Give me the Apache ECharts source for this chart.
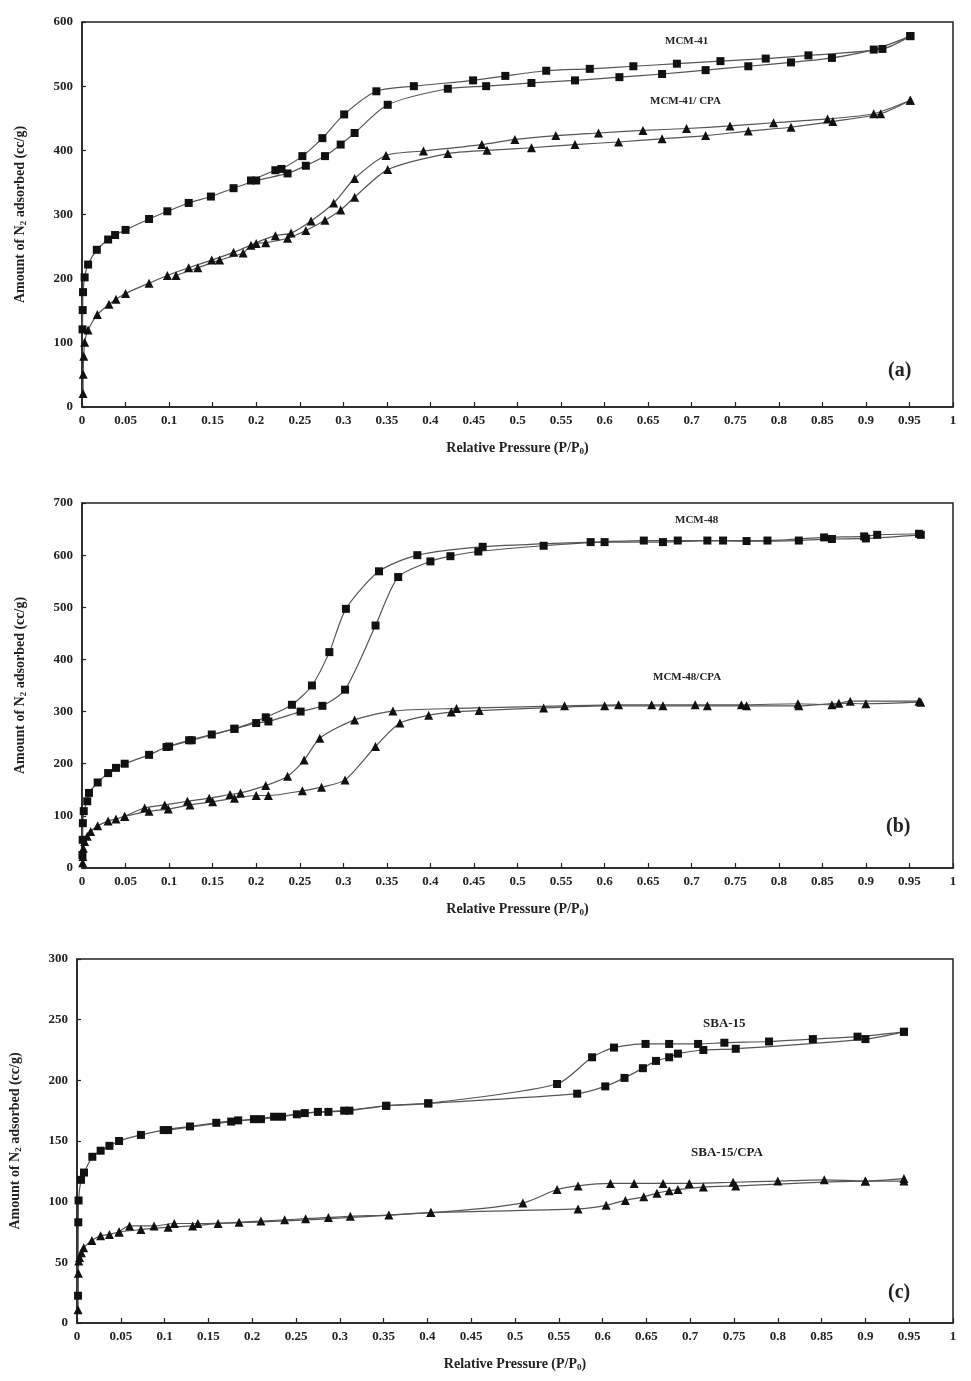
<!DOCTYPE html>
<html>
<head>
<meta charset="utf-8">
<script src="https://cdn.jsdelivr.net/npm/echarts@6/dist/echarts.min.js"></script>
<style>
html,body{margin:0;padding:0;background:#fff;}
#c{width:971px;height:1381px;}
</style>
</head>
<body>
<div id="c"></div>
<script>
// ---------- data (x = P/P0, y = cc/g) ----------
const xTicks = [0,0.05,0.1,0.15,0.2,0.25,0.3,0.35,0.4,0.45,0.5,0.55,0.6,0.65,0.7,0.75,0.8,0.85,0.9,0.95,1];

// Panel (a)
const mcm41Ads = [[0.0006,121],[0.0008,151],[0.0012,179],[0.003,202],[0.007,222],[0.017,245],[0.030,261],[0.038,268],[0.05,276],[0.077,293],[0.098,305],[0.1225,318],[0.148,328],[0.174,341],[0.2,353],[0.236,364],[0.257,376],[0.279,391],[0.297,409],[0.313,427],[0.351,471],[0.42,496],[0.464,500],[0.516,505],[0.566,509],[0.617,514],[0.666,519],[0.716,525],[0.765,531],[0.814,537],[0.861,544],[0.909,557],[0.951,578]];
const mcm41Des = [[0.194,353],[0.222,369],[0.229,371],[0.253,391],[0.276,419],[0.301,456],[0.338,492],[0.381,500],[0.449,509],[0.486,516],[0.533,524],[0.583,527],[0.633,531],[0.683,535],[0.733,539],[0.785,543],[0.834,548],[0.919,558],[0.951,578]];
const mcm41cpaAds = [[0.0012,21],[0.0014,51],[0.002,79],[0.003,101],[0.007,120],[0.0176,144],[0.031,160],[0.039,168],[0.05,177],[0.077,193],[0.098,205],[0.1225,217],[0.149,229],[0.174,241],[0.2,255],[0.211,256],[0.236,263],[0.257,275],[0.279,291],[0.297,307],[0.313,327],[0.351,370],[0.42,395],[0.465,400],[0.516,404],[0.566,409],[0.616,413],[0.666,418],[0.716,423],[0.765,430],[0.814,436],[0.862,445],[0.917,457],[0.951,478]];
const mcm41cpaDes = [[0.108,205],[0.133,217],[0.158,229],[0.185,240],[0.194,252],[0.222,267],[0.24,271],[0.263,290],[0.289,318],[0.313,356],[0.349,392],[0.392,399],[0.459,409],[0.497,417],[0.544,423],[0.593,427],[0.644,431],[0.694,434],[0.744,438],[0.794,443],[0.856,449],[0.909,457],[0.951,478]];

// Panel (b)
const mcm48Ads = [[0.0005,25],[0.0008,54],[0.001,86],[0.002,109],[0.006,128],[0.008,144],[0.018,164],[0.03,182],[0.039,192],[0.049,200],[0.077,217],[0.097,232],[0.123,245],[0.149,256],[0.175,267],[0.2,278],[0.214,281],[0.251,300],[0.276,311],[0.302,342],[0.337,465],[0.363,558],[0.4,588],[0.423,598],[0.455,607],[0.53,618],[0.6,625],[0.667,625],[0.718,628],[0.763,627],[0.823,628],[0.861,631],[0.9,632],[0.963,639]];
const mcm48Des = [[0.1,233],[0.126,245],[0.175,267],[0.211,289],[0.241,313],[0.264,350],[0.284,414],[0.303,497],[0.341,569],[0.385,600],[0.46,616],[0.584,625],[0.645,628],[0.684,628],[0.736,628],[0.787,628],[0.852,634],[0.898,636],[0.913,639],[0.961,641]];
const mcm48cpaAds = [[0.0008,10],[0.001,22],[0.0015,38],[0.003,51],[0.006,61],[0.01,70],[0.018,81],[0.03,90],[0.039,94],[0.049,99],[0.077,109],[0.099,113],[0.124,121],[0.15,127],[0.175,134],[0.2,139],[0.214,139],[0.253,148],[0.275,155],[0.302,169],[0.337,233],[0.365,278],[0.398,293],[0.424,299],[0.456,302],[0.53,307],[0.6,311],[0.667,311],[0.718,311],[0.763,311],[0.823,311],[0.869,316],[0.9,315],[0.963,318]];
const mcm48cpaDes = [[0.049,99],[0.072,115],[0.095,121],[0.121,128],[0.146,134],[0.17,141],[0.182,144],[0.211,158],[0.236,176],[0.255,207],[0.273,249],[0.313,284],[0.357,301],[0.43,306],[0.554,311],[0.616,313],[0.654,313],[0.704,313],[0.757,313],[0.822,315],[0.861,313],[0.882,320],[0.961,320]];

// Panel (c)
const sba15Ads = [[0.0012,22.5],[0.0015,83],[0.0018,101],[0.0046,118],[0.008,124],[0.0175,137],[0.027,142],[0.037,146],[0.048,150],[0.073,155],[0.099,159],[0.129,162],[0.159,165],[0.184,167],[0.21,168],[0.234,170],[0.26,173],[0.287,174],[0.311,175],[0.353,179],[0.401,181],[0.571,189],[0.603,195],[0.625,202],[0.646,210],[0.661,216],[0.676,219],[0.686,222],[0.715,225],[0.752,226],[0.9,234],[0.944,240]];
const sba15Des = [[0.0025,124],[0.104,159],[0.176,166],[0.202,168],[0.225,170],[0.251,172],[0.275,174],[0.305,175],[0.353,179],[0.401,181],[0.548,197],[0.588,219],[0.613,227],[0.649,230],[0.676,230],[0.709,230],[0.739,231],[0.79,232],[0.84,234],[0.891,236],[0.944,240]].slice(1);
const sba15cpaAds = [[0.0012,11],[0.0016,41],[0.002,51],[0.003,54],[0.005,58],[0.0076,62],[0.017,68],[0.027,72],[0.037,73],[0.048,75],[0.073,77],[0.104,79],[0.132,80],[0.161,82],[0.185,83],[0.21,84],[0.237,85],[0.261,86],[0.287,87],[0.312,88],[0.356,89],[0.404,91],[0.572,94],[0.604,97],[0.626,101],[0.647,104],[0.662,107],[0.676,109],[0.686,110],[0.715,112],[0.752,113],[0.9,117],[0.944,117]];
const sba15cpaDes = [[0.048,75],[0.06,80],[0.088,80],[0.111,82],[0.138,82],[0.404,91],[0.509,99],[0.548,110],[0.572,113],[0.609,115],[0.636,115],[0.669,115],[0.699,115],[0.749,116],[0.8,117],[0.853,118],[0.9,117],[0.944,119]];

const yMaxes = [600, 700, 300];
const yIntervals = [100, 100, 50];
const panelTags = ['(a)', '(b)', '(c)'];
const seriesNames = [['MCM-41','MCM-41/ CPA'],['MCM-48','MCM-48/CPA'],['SBA-15','SBA-15/CPA']];

// ---------- chart ----------
const FONT = '"Liberation Serif", "DejaVu Serif", serif';
const grids = [
  {left: 82, right: 18, top: 22, height: 385},
  {left: 82, right: 18, top: 503, height: 365},
  {left: 76, right: 18, top: 959, height: 364}
];
const panelData = [
  [mcm41Ads, mcm41Des, mcm41cpaAds, mcm41cpaDes],
  [mcm48Ads, mcm48Des, mcm48cpaAds, mcm48cpaDes],
  [sba15Ads, sba15Des, sba15cpaAds, sba15cpaDes]
];

const xAxes = [], yAxes = [], series = [];
grids.forEach((g, i) => {
  g.show = true; g.borderColor = '#222'; g.borderWidth = 1.5; g.backgroundColor = 'transparent';
  xAxes.push({
    type: 'value', gridIndex: i, min: 0, max: 1, interval: 0.05,
    axisLine: {show: true, onZero: false, lineStyle: {color: '#222', width: 1.5}},
    axisTick: {show: true, inside: true, length: 5, lineStyle: {color: '#222', width: 1.2}},
    splitLine: {show: false},
    axisLabel: {color: '#222', fontFamily: FONT, fontWeight: 'bold', fontSize: 13, margin: 7,
      formatter: v => String(+v.toFixed(2))},
    name: 'Relative Pressure (P/P{s|0})', nameLocation: 'middle', nameGap: 33,
    nameTextStyle: {color: '#222', fontFamily: FONT, fontWeight: 'bold', fontSize: 14,
      rich: {s: {fontFamily: FONT, fontWeight: 'bold', fontSize: 9, color: '#222', verticalAlign: 'bottom', padding: [7, 0, 0, 0]}}}
  });
  yAxes.push({
    type: 'value', gridIndex: i, min: 0, max: yMaxes[i], interval: yIntervals[i],
    axisLine: {show: true, lineStyle: {color: '#222', width: 1.5}},
    axisTick: {show: true, inside: true, length: 4, lineStyle: {color: '#222', width: 1.2}},
    splitLine: {show: false},
    axisLabel: {color: '#222', fontFamily: FONT, fontWeight: 'bold', fontSize: 13, margin: 9},
    name: 'Amount of N{s|2} adsorbed (cc/g)', nameLocation: 'middle', nameGap: 54,
    nameTextStyle: {color: '#222', fontFamily: FONT, fontWeight: 'bold', fontSize: 14,
      rich: {s: {fontFamily: FONT, fontWeight: 'bold', fontSize: 9, color: '#222', verticalAlign: 'bottom', padding: [7, 0, 0, 0]}}}
  });
  panelData[i].forEach((d, k) => {
    const tri = k >= 2;
    series.push({
      type: 'line', xAxisIndex: i, yAxisIndex: i, data: d,
      name: seriesNames[i][tri ? 1 : 0],
      smooth: 0.25,
      symbol: tri ? 'triangle' : 'rect',
      symbolSize: tri ? 9 : 8,
      showAllSymbol: true,
      itemStyle: {color: '#111'},
      lineStyle: {color: '#555', width: 1.2},
      animation: false,
      z: 3
    });
  });
});

const textStyle = (size) => ({fontFamily: FONT, fontWeight: 'bold', fontSize: size, fill: '#222'});
const graphic = [
  {type: 'text', left: 665, top: 36, style: Object.assign({text: 'MCM-41'}, textStyle(11))},
  {type: 'text', left: 650, top: 96, style: Object.assign({text: 'MCM-41/ CPA'}, textStyle(11))},
  {type: 'text', left: 675, top: 515, style: Object.assign({text: 'MCM-48'}, textStyle(11))},
  {type: 'text', left: 653, top: 672, style: Object.assign({text: 'MCM-48/CPA'}, textStyle(11))},
  {type: 'text', left: 703, top: 1017, style: Object.assign({text: 'SBA-15'}, textStyle(13))},
  {type: 'text', left: 691, top: 1146, style: Object.assign({text: 'SBA-15/CPA'}, textStyle(13))},
  {type: 'text', left: 888, top: 361, style: Object.assign({text: panelTags[0]}, textStyle(20))},
  {type: 'text', left: 886, top: 817, style: Object.assign({text: panelTags[1]}, textStyle(20))},
  {type: 'text', left: 888, top: 1283, style: Object.assign({text: panelTags[2]}, textStyle(20))}
];

const chart = echarts.init(document.getElementById('c'), null, {renderer: 'canvas'});
chart.setOption({
  animation: false,
  backgroundColor: '#fff',
  grid: grids,
  xAxis: xAxes,
  yAxis: yAxes,
  series: series,
  graphic: graphic
});
</script>
</body>
</html>
